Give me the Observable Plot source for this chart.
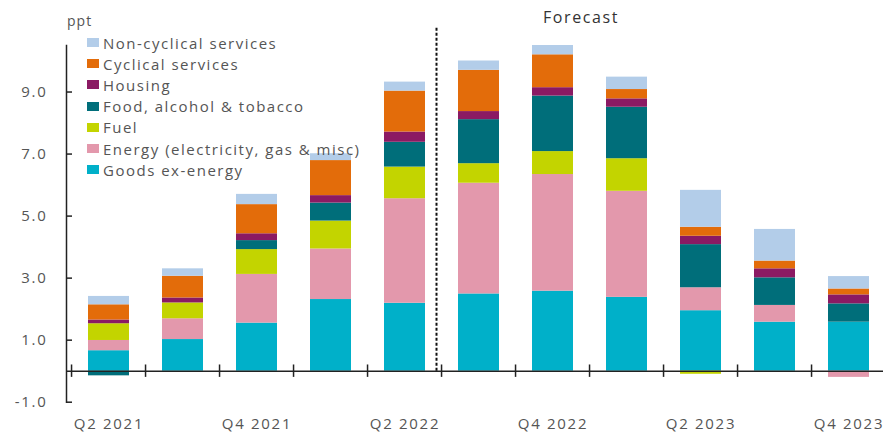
<!DOCTYPE html>
<html><head><meta charset="utf-8">
<script src="https://cdn.jsdelivr.net/npm/d3@7"></script>
<script src="https://cdn.jsdelivr.net/npm/@observablehq/plot@0.6"></script>
<style>
body{margin:0;background:#fff;font-family:"Open Sans",sans-serif;}
#wrap{position:relative;width:883px;height:433px;overflow:hidden;}
#legend{position:absolute;left:87px;top:32px;font-size:15px;color:#555;letter-spacing:1.5px;}
#legend div{height:21.2px;display:flex;align-items:center;white-space:nowrap;}
#legend span.sw{display:inline-block;width:12px;height:9px;margin-right:4px;}
.lbl{position:absolute;white-space:nowrap;}
</style></head><body><div id="wrap"></div>
<script>
const quarters = ["Q2 2021","Q3 2021","Q4 2021","Q1 2022","Q2 2022","Q3 2022","Q4 2022","Q1 2023","Q2 2023","Q3 2023","Q4 2023"];
const xLabels = ["Q2 2021","Q4 2021","Q2 2022","Q4 2022","Q2 2023","Q4 2023"];
const yTicks = [-1, 1, 3, 5, 7, 9];
const forecastStart = "Q3 2022";
const seriesNames = ["Goods ex-energy","Energy (electricity, gas & misc)","Fuel","Food, alcohol & tobacco","Housing","Cyclical services","Non-cyclical services"];
const seriesColors = ["#00b0c9","#e398ac","#c3d400","#006e7a","#8b1a63","#e36c0a","#b3cde9"];
const goods    = [0.66,1.02,1.55,2.31,2.19,2.49,2.58,2.38,1.95,1.58,1.58];
const energy   = [0.33,0.67,1.57,1.63,3.37,3.57,3.76,3.42,0.74,0.54,-0.20];
const fuel     = [0.54,0.51,0.80,0.90,1.02,0.63,0.74,1.05,-0.10,0,0];
const food     = [-0.15,0,0.29,0.58,0.80,1.42,1.79,1.66,1.39,0.89,0.59];
const housing  = [0.12,0.16,0.22,0.24,0.33,0.26,0.27,0.27,0.27,0.29,0.29];
const cyclical = [0.49,0.70,0.94,1.13,1.32,1.33,1.06,0.30,0.29,0.25,0.19];
const noncyc   = [0.27,0.24,0.33,0.22,0.29,0.30,0.30,0.40,1.19,1.02,0.40];

const seriesValues = [goods, energy, fuel, food, housing, cyclical, noncyc];
const rows = [];
quarters.forEach((q, i) => seriesNames.forEach((s, k) => rows.push({quarter: q, series: s, value: seriesValues[k][i]})));

const xRange = [66, 890];
const step = (xRange[1] - xRange[0]) / quarters.length;

const chart = Plot.plot({
  width: 883, height: 433,
  marginLeft: 66, marginRight: 0, marginTop: 45, marginBottom: 31.3,
  style: {fontFamily: "Open Sans", fontSize: "15px", color: "#555", background: "transparent", overflow: "visible", letterSpacing: "1.7px"},
  x: {domain: quarters, range: xRange, paddingInner: 0.45, paddingOuter: 0.225, label: null},
  y: {domain: [-1, 10.5], label: null},
  color: {domain: seriesNames, range: seriesColors},
  marks: [
    Plot.barY(rows, {x: "quarter", y: "value", fill: "series", order: seriesNames}),
    Plot.ruleY([0], {stroke: "#222", strokeWidth: 1.5}),
    Plot.ruleX(quarters, {x: d => d, y1: -0.2, y2: 0.2, dx: -step / 2, stroke: "#222", strokeWidth: 1.5}),
    Plot.ruleX([forecastStart], {x: d => d, y1: 0, y2: 11.1, dx: -42.5, stroke: "#111", strokeWidth: 2, strokeDasharray: "3,2"}),
    Plot.frame({anchor: "left", stroke: "#222", strokeWidth: 1.5}),
    Plot.tickY(yTicks, {y: d => d, insetRight: 883 - 72, stroke: "#222", strokeWidth: 1.5}),
    Plot.axisY({ticks: yTicks, tickSize: 0, tickPadding: 19, tickFormat: d => d.toFixed(1), fill: "#555"}),
    Plot.axisX({tickSize: 0, tickPadding: 16, tickFormat: d => xLabels.includes(d) ? d : "", fill: "#555"})
  ]
});
const wrap = document.getElementById("wrap");
wrap.appendChild(chart);

const legend = document.createElement("div");
legend.id = "legend";
seriesNames.slice().reverse().forEach((s) => {
  const row = document.createElement("div");
  const sw = document.createElement("span");
  sw.className = "sw";
  sw.style.background = seriesColors[seriesNames.indexOf(s)];
  row.appendChild(sw);
  row.appendChild(document.createTextNode(s));
  legend.appendChild(row);
});
wrap.appendChild(legend);

const ppt = document.createElement("div");
ppt.className = "lbl"; ppt.textContent = "ppt";
Object.assign(ppt.style, {left: "67px", top: "11px", fontSize: "14px", color: "#555", letterSpacing: "1px"});
wrap.appendChild(ppt);
const fc = document.createElement("div");
fc.className = "lbl"; fc.textContent = "Forecast";
Object.assign(fc.style, {left: "543px", top: "6px", fontSize: "16px", color: "#333", letterSpacing: "1.6px"});
wrap.appendChild(fc);
</script></body></html>
